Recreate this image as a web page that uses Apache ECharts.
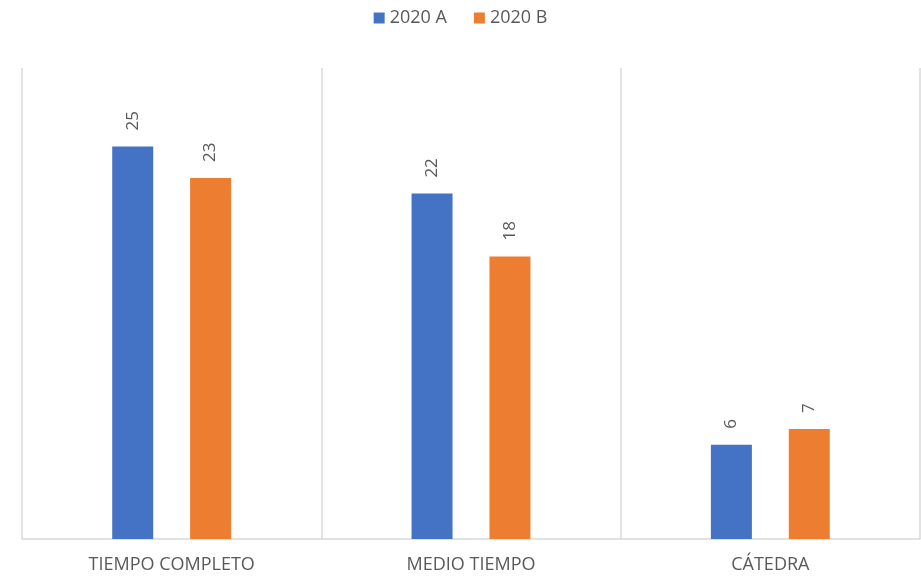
<!DOCTYPE html>
<html>
<head>
<meta charset="utf-8">
<script src="https://cdn.jsdelivr.net/npm/echarts@6/dist/echarts.min.js"></script>
<style>html,body{margin:0;padding:0;background:#fff;}#c{width:921px;height:577px;}</style>
</head>
<body>
<div id="c"></div>
<script>
var categories = ['TIEMPO COMPLETO', 'MEDIO TIEMPO', 'CÁTEDRA'];
var seriesNames = ['2020 A', '2020 B'];
var valuesA = [25, 22, 6];
var valuesB = [23, 18, 7];
var colors = ['#4472C4', '#ED7D31'];

var chart = echarts.init(document.getElementById('c'));
var labelCfg = {
  show: true, position: 'top', rotate: 90, align: 'left', verticalAlign: 'middle',
  distance: 16, color: '#595959', fontSize: 17, fontFamily: 'Open Sans'
};
chart.setOption({
  animation: false,
  textStyle: { fontFamily: 'Open Sans' },
  legend: {
    top: 4, left: 'center', itemWidth: 11, itemHeight: 11, itemGap: 27,
    icon: 'rect',
    textStyle: { color: '#595959', fontSize: 18, fontFamily: 'Open Sans' },
    data: seriesNames
  },
  grid: { left: 22, right: 1, top: 68, bottom: 38 },
  xAxis: {
    type: 'category', data: categories,
    axisLine: { lineStyle: { color: '#d9d9d9', width: 1.5 } },
    axisTick: { show: false },
    splitLine: { show: true, lineStyle: { color: '#d9d9d9', width: 1.5 } },
    axisLabel: { color: '#595959', fontSize: 18, margin: 17, fontFamily: 'Open Sans' }
  },
  yAxis: { type: 'value', min: 0, max: 30, show: false, splitLine: { show: false } },
  series: [
    { name: seriesNames[0], type: 'bar', data: valuesA, barWidth: 41, barGap: '90%',
      itemStyle: { color: colors[0] }, label: labelCfg },
    { name: seriesNames[1], type: 'bar', data: valuesB, barWidth: 41, barGap: '90%',
      itemStyle: { color: colors[1] }, label: labelCfg }
  ]
});
</script>
</body>
</html>
